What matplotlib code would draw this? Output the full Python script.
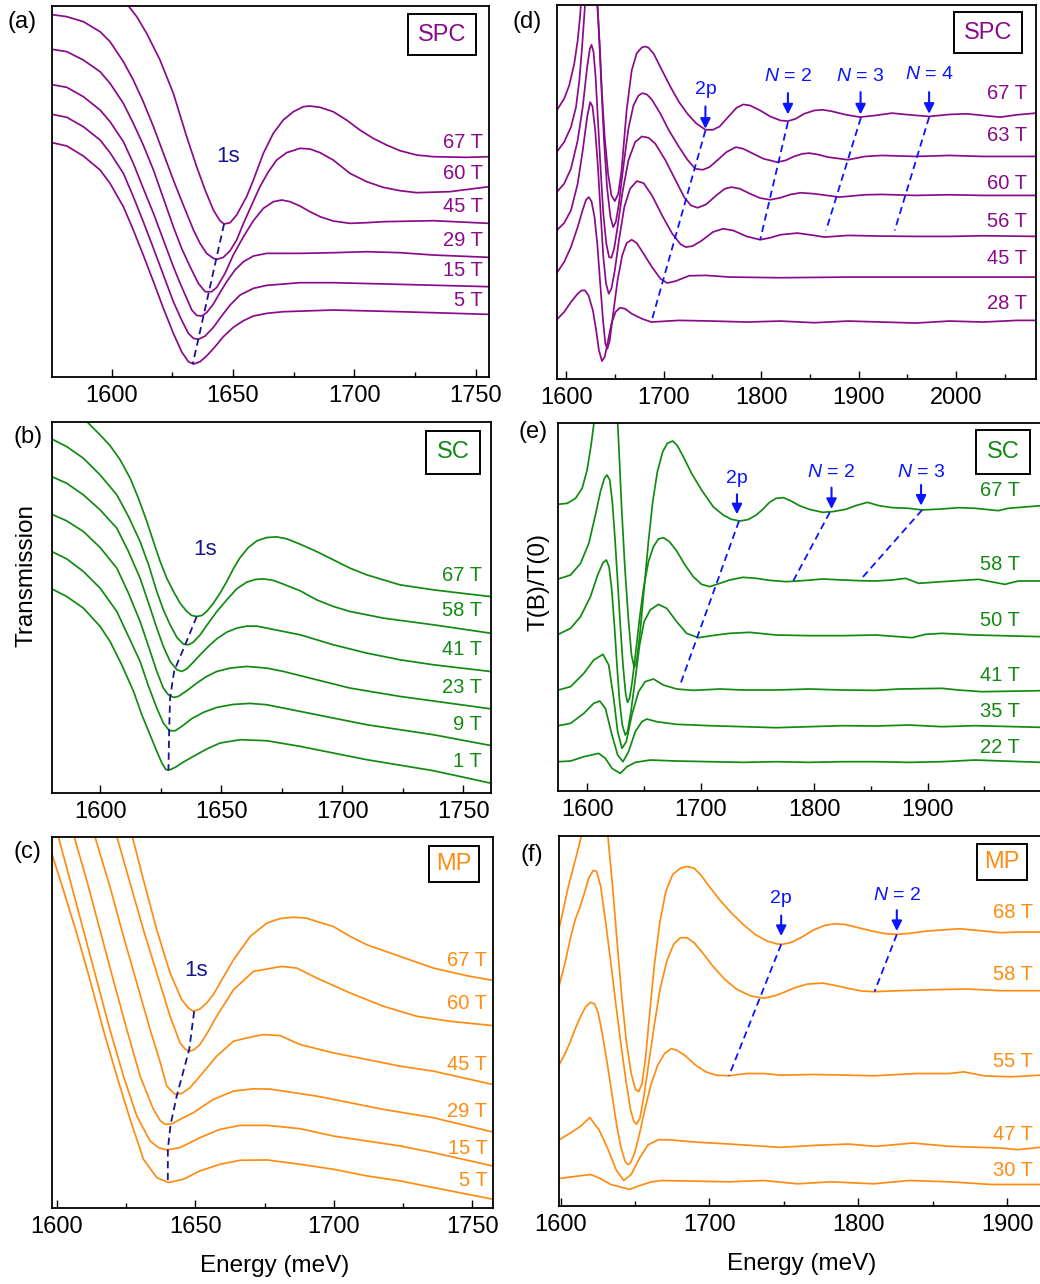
import matplotlib
matplotlib.use('Agg')
import matplotlib.pyplot as plt
from matplotlib.ticker import MultipleLocator, FixedLocator

plt.rcParams['font.family'] = ['Liberation Sans', 'DejaVu Sans']
plt.rcParams['mathtext.fontset'] = 'custom'
plt.rcParams['mathtext.rm'] = 'Liberation Sans'
plt.rcParams['mathtext.it'] = 'Liberation Sans:italic'

# Values: energy (meV) and signal offset (arb. units)

# ---------------- panel (a) SPC, transmission ----------------
a_67_x = [1604.8, 1606.9, 1610.3, 1614.4, 1619.9, 1625.4, 1630.9, 1635.0, 1638.5, 1641.9, 1644.6, 1646.3, 1648.8, 1651.5, 1655.6, 1658.4, 1662.5, 1666.6, 1670.7, 1674.9, 1679.0, 1681.7, 1685.9, 1691.3, 1696.8, 1702.3, 1707.8, 1713.3, 1718.8, 1725.7, 1732.6, 1746.3, 1755.5]
a_67_y = [1135, 1112, 1080, 1030, 950, 850, 720, 630, 560, 500, 468, 458, 462, 485, 540, 590, 670, 730, 770, 795, 810, 812, 808, 795, 770, 740, 715, 695, 678, 665, 660, 658, 660]
a_60_x = [1575.5, 1581.5, 1588.3, 1595.2, 1599.3, 1604.8, 1608.9, 1613.0, 1617.2, 1621.3, 1625.4, 1629.5, 1633.7, 1636.4, 1639.1, 1641.9, 1643.3, 1646.0, 1648.8, 1651.5, 1654.3, 1657.7, 1661.1, 1664.6, 1668.0, 1672.1, 1677.6, 1681.7, 1685.9, 1691.3, 1698.2, 1705.1, 1711.9, 1718.8, 1725.7, 1739.4, 1755.5]
a_60_y = [1086, 1080, 1065, 1035, 1005, 945, 890, 825, 750, 670, 590, 515, 440, 400, 370, 355, 352, 358, 378, 410, 460, 515, 570, 615, 650, 672, 685, 683, 672, 650, 610, 585, 568, 558, 552, 555, 570]
a_45_x = [1575.5, 1581.5, 1588.3, 1595.2, 1599.3, 1604.8, 1608.9, 1613.0, 1617.2, 1621.3, 1625.4, 1628.8, 1632.3, 1635.7, 1638.5, 1641.2, 1643.3, 1646.7, 1650.1, 1654.3, 1658.4, 1662.5, 1666.6, 1670.1, 1673.5, 1677.6, 1681.7, 1685.9, 1691.3, 1698.2, 1705.1, 1711.9, 1732.6, 1755.5]
a_45_y = [982, 975, 950, 915, 880, 820, 760, 695, 620, 535, 450, 385, 330, 280, 255, 255, 268, 310, 365, 420, 468, 505, 525, 530, 525, 512, 495, 480, 467, 460, 462, 465, 468, 460]
a_29_x = [1575.5, 1581.5, 1588.3, 1595.2, 1599.3, 1604.8, 1608.9, 1613.0, 1617.2, 1621.3, 1625.4, 1628.2, 1630.9, 1633.0, 1635.0, 1637.1, 1639.1, 1641.9, 1644.6, 1647.4, 1650.8, 1654.3, 1658.4, 1663.9, 1677.6, 1691.3, 1705.1, 1718.8, 1732.6, 1755.5]
a_29_y = [876, 868, 840, 800, 765, 705, 640, 565, 490, 410, 330, 280, 235, 200, 184, 182, 192, 218, 252, 285, 320, 345, 362, 370, 370, 372, 375, 372, 365, 358]
a_15_x = [1575.5, 1581.5, 1588.3, 1595.2, 1599.3, 1604.8, 1608.9, 1613.0, 1617.2, 1621.3, 1625.4, 1628.8, 1631.6, 1633.7, 1635.7, 1638.5, 1641.9, 1645.3, 1648.8, 1652.9, 1658.4, 1663.9, 1677.6, 1691.3, 1718.8, 1755.5]
a_15_y = [787, 778, 750, 710, 672, 610, 540, 465, 385, 305, 225, 170, 130, 115, 112, 122, 148, 182, 215, 245, 265, 274, 282, 282, 277, 270]
a_5_x = [1575.5, 1581.5, 1588.3, 1595.2, 1599.3, 1604.8, 1608.9, 1613.0, 1617.2, 1621.3, 1625.4, 1628.8, 1631.6, 1633.7, 1636.4, 1639.1, 1642.6, 1646.0, 1650.1, 1654.3, 1658.4, 1663.9, 1670.7, 1691.3, 1718.8, 1755.5]
a_5_y = [702, 692, 662, 620, 580, 510, 440, 365, 285, 205, 130, 75, 45, 38, 45, 62, 90, 120, 148, 168, 182, 190, 195, 200, 195, 187]
a_labels = ['67 T', '60 T', '45 T', '29 T', '15 T', '5 T']
a_label_y = [702, 610, 510, 408, 320, 228]
a_1s_x = [1646.3, 1633.4]
a_1s_y = [458, 38]

# ---------------- panel (b) SC, transmission ----------------
b_67 = [(1593.1, 1145), (1594.8, 1113), (1600.0, 1075), (1604.1, 1043), (1608.3, 1000), (1612.4, 945), (1615.8, 885), (1619.3, 815), (1622.0, 755), (1624.8, 695), (1627.5, 645), (1630.3, 605), (1633.0, 570), (1635.8, 545), (1637.8, 533), (1639.9, 530), (1642.0, 533), (1644.0, 545), (1646.8, 570), (1649.5, 600), (1652.3, 635), (1655.0, 673), (1657.8, 707), (1661.2, 737), (1664.7, 757), (1668.8, 767), (1672.9, 769), (1677.1, 763), (1682.6, 747), (1689.4, 725), (1696.3, 700), (1703.2, 675), (1710.1, 655), (1723.8, 625), (1737.6, 610), (1751.4, 598), (1761.0, 590)]
b_58 = [(1580.0, 1063), (1586.2, 1040), (1593.1, 1005), (1600.0, 955), (1606.9, 895), (1611.7, 830), (1616.5, 755), (1620.0, 685), (1623.4, 605), (1626.1, 550), (1628.9, 505), (1631.7, 467), (1634.4, 447), (1636.5, 445), (1638.5, 453), (1641.3, 475), (1644.0, 503), (1648.2, 545), (1652.3, 580), (1656.4, 613), (1660.5, 633), (1664.0, 641), (1667.4, 643), (1671.6, 638), (1675.7, 627), (1682.6, 607), (1689.4, 580), (1696.3, 560), (1703.2, 545), (1717.0, 525), (1737.6, 505), (1761.0, 480)]
b_41 = [(1580.0, 950), (1586.2, 930), (1593.1, 895), (1600.0, 850), (1606.9, 795), (1611.7, 725), (1616.5, 645), (1620.0, 570), (1623.4, 495), (1626.1, 440), (1628.9, 395), (1631.7, 370), (1633.7, 365), (1635.8, 373), (1638.5, 393), (1641.3, 415), (1644.7, 440), (1648.2, 463), (1652.3, 483), (1656.4, 495), (1660.5, 501), (1664.7, 501), (1668.8, 495), (1675.7, 485), (1682.6, 475), (1696.3, 445), (1710.1, 420), (1723.8, 400), (1737.6, 385), (1761.0, 365)]
b_23 = [(1580.0, 837), (1586.2, 817), (1593.1, 785), (1600.0, 737), (1606.9, 675), (1611.7, 600), (1616.5, 515), (1620.0, 440), (1623.4, 365), (1626.1, 315), (1628.2, 295), (1630.3, 287), (1632.3, 290), (1635.8, 307), (1639.9, 330), (1644.0, 350), (1648.2, 365), (1653.7, 375), (1660.5, 380), (1668.8, 375), (1675.7, 365), (1689.4, 340), (1703.2, 315), (1723.8, 290), (1761.0, 253)]
b_9 = [(1580.0, 725), (1586.2, 703), (1593.1, 665), (1600.0, 615), (1606.9, 545), (1611.7, 470), (1616.5, 395), (1620.0, 320), (1623.4, 255), (1626.1, 210), (1628.6, 187), (1631.0, 187), (1633.7, 200), (1637.8, 223), (1642.6, 242), (1648.2, 257), (1655.0, 266), (1661.9, 269), (1668.8, 265), (1682.6, 245), (1696.3, 225), (1710.1, 205), (1737.6, 175), (1761.0, 143)]
b_1 = [(1580.0, 613), (1586.2, 590), (1593.1, 555), (1600.0, 500), (1604.1, 455), (1608.9, 385), (1613.8, 305), (1617.2, 235), (1620.6, 175), (1623.4, 125), (1625.5, 90), (1627.2, 70), (1628.9, 70), (1631.0, 77), (1634.4, 93), (1638.5, 110), (1644.0, 132), (1649.5, 150), (1657.8, 160), (1668.8, 157), (1682.6, 140), (1696.3, 120), (1710.1, 100), (1737.6, 67), (1761.0, 30)]
b_labels = ['67 T', '58 T', '41 T', '23 T', '9 T', '1 T']
b_label_y = [652, 548, 432, 317, 205, 95]
b_1s_x = [1639.9, 1635.1, 1630.6, 1628.9, 1628.5, 1628.2]
b_1s_y = [530, 445, 367, 287, 187, 67]

# ---------------- panel (c) MP, transmission ----------------
c_67_x = [1626.1, 1627.3, 1631.3, 1636.1, 1640.9, 1645.1, 1647.5, 1649.3, 1651.7, 1654.1, 1656.5, 1658.9, 1663.8, 1669.8, 1675.8, 1680.6, 1685.4, 1690.2, 1693.8, 1699.8, 1705.9, 1711.9, 1723.9, 1735.9, 1748.0, 1757.3]
c_67_y = [1150, 1115, 985, 835, 705, 625, 600, 590, 597, 615, 640, 675, 745, 815, 855, 869, 873, 870, 860, 845, 815, 790, 755, 720, 697, 683]
c_60_x = [1620.6, 1621.7, 1626.5, 1631.3, 1636.1, 1640.9, 1644.5, 1646.3, 1647.5, 1649.3, 1651.7, 1654.7, 1657.7, 1663.8, 1671.0, 1675.8, 1681.2, 1686.6, 1693.8, 1705.9, 1717.9, 1729.9, 1741.9, 1757.3]
c_60_y = [1150, 1115, 975, 835, 705, 575, 495, 477, 470, 473, 490, 530, 575, 655, 710, 717, 725, 720, 690, 645, 605, 575, 560, 547]
c_45_x = [1612.6, 1613.8, 1619.2, 1624.1, 1628.9, 1633.7, 1637.3, 1639.7, 1642.7, 1645.1, 1648.1, 1651.7, 1657.7, 1663.8, 1668.6, 1674.6, 1680.6, 1687.8, 1699.8, 1711.9, 1723.9, 1735.9, 1757.3]
c_45_y = [1150, 1115, 965, 815, 675, 535, 438, 365, 340, 343, 360, 395, 455, 500, 510, 520, 517, 490, 465, 445, 425, 410, 370]
c_29_x = [1605.1, 1606.3, 1610.8, 1615.6, 1620.4, 1625.3, 1630.1, 1634.9, 1637.3, 1639.1, 1641.5, 1644.5, 1649.3, 1656.5, 1663.8, 1671.0, 1677.0, 1681.8, 1693.8, 1705.9, 1717.9, 1735.9, 1757.3]
c_29_y = [1150, 1115, 985, 835, 685, 535, 395, 295, 262, 250, 251, 265, 285, 325, 350, 357, 356, 350, 335, 315, 295, 270, 227]
c_15_x = [1598.2, 1600.6, 1604.8, 1609.6, 1614.4, 1619.2, 1624.1, 1628.9, 1633.7, 1636.7, 1639.7, 1644.5, 1651.7, 1658.9, 1666.2, 1675.8, 1687.8, 1699.8, 1711.9, 1723.9, 1735.9, 1757.3]
c_15_y = [1165, 1115, 985, 835, 685, 535, 395, 275, 200, 180, 173, 180, 210, 235, 247, 247, 237, 215, 200, 185, 165, 125]
c_5_x = [1598.2, 1602.4, 1607.2, 1612.0, 1616.8, 1621.7, 1626.5, 1631.3, 1636.1, 1640.3, 1645.7, 1651.7, 1658.9, 1666.2, 1675.8, 1687.8, 1699.8, 1711.9, 1723.9, 1735.9, 1757.3]
c_5_y = [1065, 955, 825, 685, 535, 395, 265, 145, 90, 75, 85, 110, 130, 142, 143, 130, 115, 95, 80, 60, 25]
c_labels = ['67 T', '60 T', '45 T', '29 T', '15 T', '5 T']
c_label_y = [743, 612, 430, 290, 177, 82]
c_1s_x = [1649.6, 1647.8, 1643.3, 1641.1, 1640.1, 1640.1]
c_1s_y = [590, 475, 335, 250, 175, 75]

# ---------------- panel (d) SPC, T(B)/T(0) ----------------
d_67 = [(1590.3, 805), (1597.9, 840), (1603.1, 880), (1608.3, 945), (1611.8, 1015), (1614.2, 1085), (1615.9, 1155), (1618.0, 1235), (1629.1, 1235), (1630.8, 1165), (1632.6, 1095), (1634.7, 985), (1636.7, 855), (1639.5, 725), (1643.0, 615), (1646.4, 550), (1649.9, 533), (1653.4, 555), (1656.8, 625), (1662.0, 805), (1667.2, 925), (1672.4, 977), (1677.6, 994), (1681.1, 997), (1684.6, 993), (1689.8, 975), (1698.4, 925), (1707.1, 875), (1715.8, 830), (1724.4, 795), (1733.1, 767), (1742.8, 747), (1750.4, 747), (1757.4, 757), (1766.0, 785), (1774.7, 813), (1781.6, 823), (1788.6, 820), (1799.0, 805), (1809.3, 787), (1819.7, 775), (1827.4, 773), (1835.3, 780), (1844.0, 795), (1854.4, 805), (1863.1, 807), (1871.7, 803), (1885.6, 793), (1901.2, 785), (1916.8, 790), (1934.1, 797), (1951.5, 792), (1972.2, 787), (1993.0, 793), (2010.4, 795), (2027.7, 790), (2045.0, 785), (2062.4, 792), (2081.8, 797)]
d_63 = [(1590.3, 680), (1597.9, 710), (1604.9, 755), (1610.1, 815), (1613.5, 895), (1616.3, 995), (1618.7, 1095), (1620.8, 1195), (1622.9, 1255), (1629.1, 1255), (1631.2, 1175), (1633.3, 1055), (1636.0, 885), (1638.8, 715), (1641.9, 575), (1645.4, 485), (1648.2, 455), (1650.9, 470), (1654.1, 525), (1658.6, 635), (1663.8, 750), (1669.0, 820), (1674.2, 850), (1678.3, 857), (1682.8, 853), (1688.0, 837), (1696.7, 795), (1705.4, 745), (1715.8, 695), (1724.4, 657), (1732.4, 630), (1740.0, 627), (1747.0, 635), (1755.6, 657), (1764.3, 680), (1774.0, 695), (1781.6, 690), (1792.0, 675), (1802.4, 660), (1816.3, 650), (1824.9, 655), (1833.6, 667), (1842.3, 675), (1849.2, 677), (1857.9, 673), (1868.3, 665), (1889.1, 657), (1906.4, 667), (1923.7, 670), (1958.4, 667), (1993.0, 670), (2027.7, 667), (2081.8, 667)]
d_60 = [(1590.3, 560), (1597.9, 585), (1604.9, 630), (1611.8, 715), (1617.0, 815), (1621.5, 935), (1624.3, 990), (1626.0, 1002), (1628.1, 980), (1630.2, 905), (1632.6, 775), (1635.4, 625), (1638.1, 495), (1641.2, 405), (1644.0, 365), (1646.4, 363), (1649.2, 390), (1652.7, 455), (1657.5, 555), (1663.8, 655), (1670.7, 710), (1677.6, 727), (1684.6, 723), (1691.5, 705), (1701.9, 655), (1712.3, 595), (1721.0, 545), (1727.9, 520), (1734.8, 513), (1743.5, 523), (1753.9, 550), (1762.6, 570), (1769.5, 575), (1778.2, 570), (1788.6, 555), (1799.0, 542), (1809.3, 537), (1819.7, 543), (1830.1, 553), (1840.5, 558), (1854.4, 555), (1880.4, 545), (1906.4, 552), (1923.7, 553), (1958.4, 550), (1993.0, 552), (2027.7, 550), (2081.8, 550)]
d_56 = [(1590.3, 445), (1597.9, 467), (1604.9, 505), (1611.8, 585), (1617.0, 685), (1621.5, 785), (1624.6, 830), (1627.0, 817), (1629.8, 745), (1632.6, 635), (1635.4, 495), (1638.1, 365), (1640.9, 285), (1643.7, 255), (1646.4, 270), (1649.9, 325), (1654.1, 415), (1659.6, 515), (1665.5, 570), (1672.4, 593), (1679.4, 587), (1688.0, 550), (1698.4, 490), (1708.8, 435), (1717.5, 403), (1722.7, 395), (1729.6, 398), (1738.3, 413), (1750.4, 440), (1760.8, 450), (1771.2, 445), (1785.1, 427), (1799.0, 417), (1809.3, 423), (1819.7, 432), (1837.1, 437), (1854.4, 430), (1864.8, 425), (1889.1, 430), (1923.7, 428), (1958.4, 427), (1993.0, 427), (2027.7, 429), (2081.8, 427)]
d_45 = [(1590.3, 317), (1597.9, 350), (1604.9, 395), (1611.8, 455), (1617.0, 507), (1620.4, 537), (1623.2, 545), (1626.0, 532), (1629.1, 485), (1631.9, 405), (1634.7, 295), (1637.8, 175), (1640.2, 105), (1642.3, 90), (1644.7, 115), (1648.2, 195), (1652.7, 295), (1657.5, 370), (1662.0, 407), (1667.2, 417), (1672.4, 407), (1679.4, 375), (1688.0, 335), (1696.7, 300), (1703.6, 287), (1712.3, 293), (1726.2, 309), (1743.5, 310), (1767.8, 305), (1819.7, 303), (1889.1, 305), (1958.4, 305), (2027.7, 305), (2081.8, 305)]
d_28 = [(1590.3, 177), (1597.9, 200), (1604.9, 230), (1611.8, 255), (1615.9, 265), (1619.4, 265), (1622.9, 250), (1627.4, 205), (1630.8, 145), (1633.6, 85), (1636.7, 53), (1639.5, 65), (1643.0, 115), (1646.4, 165), (1650.6, 200), (1655.1, 213), (1660.3, 210), (1667.2, 195), (1677.6, 180), (1687.3, 170), (1715.8, 175), (1750.4, 173), (1785.1, 170), (1819.7, 173), (1854.4, 168), (1889.1, 173), (1923.7, 170), (1958.4, 167), (1993.0, 173), (2027.7, 170), (2062.4, 175), (2081.8, 175)]
d_labels = ['67 T', '63 T', '60 T', '56 T', '45 T', '28 T']
d_label_y = [855, 730, 585, 473, 360, 225]
d_marks = ['2p', '$N$ = 2', '$N$ = 3', '$N$ = 4']
d_mark_x = [1742.8, 1827.4, 1901.9, 1972.2]
d_guide_x = [[1742.8, 1687.3], [1827.4, 1799.0], [1902.2, 1866.5], [1972.2, 1936.9]]
d_guide_y = [[745, 170], [770, 417], [783, 445], [785, 445]]

# ---------------- panel (e) SC, T(B)/T(0) ----------------
e_67 = [(1574.6, 859), (1582.5, 862), (1589.8, 877), (1595.6, 907), (1600.0, 962), (1603.5, 1037), (1605.8, 1097), (1607.6, 1157), (1609.3, 1207), (1624.8, 1207), (1626.3, 1147), (1628.0, 1027), (1630.4, 847), (1633.3, 667), (1636.5, 507), (1639.1, 407), (1641.5, 369), (1643.8, 392), (1646.7, 477), (1650.2, 607), (1654.0, 747), (1657.8, 867), (1661.9, 957), (1666.6, 1017), (1670.7, 1042), (1675.4, 1049), (1679.5, 1035), (1684.7, 1002), (1692.0, 952), (1700.8, 902), (1711.0, 852), (1719.8, 827), (1727.1, 814), (1734.4, 809), (1741.7, 813), (1749.0, 827), (1754.8, 844), (1760.7, 865), (1766.5, 877), (1772.9, 879), (1779.7, 869), (1787.0, 855), (1795.7, 844), (1807.4, 835), (1816.2, 837), (1827.9, 844), (1836.6, 855), (1846.9, 865), (1857.1, 855), (1868.8, 849), (1883.4, 847), (1895.1, 842), (1912.6, 845), (1927.2, 849), (1941.8, 847), (1962.3, 840), (1971.0, 847), (2000.0, 855)]
e_58 = [(1574.6, 635), (1585.4, 647), (1594.2, 682), (1601.5, 742), (1607.3, 827), (1611.7, 897), (1615.2, 937), (1617.5, 947), (1619.9, 932), (1622.2, 867), (1624.5, 757), (1626.9, 627), (1629.2, 497), (1631.6, 377), (1633.9, 292), (1635.6, 265), (1637.4, 277), (1639.7, 327), (1642.7, 412), (1646.2, 517), (1649.7, 607), (1654.0, 687), (1658.4, 732), (1662.8, 755), (1667.2, 759), (1672.5, 747), (1678.9, 719), (1686.2, 677), (1693.5, 642), (1700.8, 619), (1708.1, 612), (1716.9, 622), (1725.6, 632), (1737.3, 640), (1749.0, 637), (1760.7, 631), (1775.3, 627), (1789.9, 630), (1807.4, 635), (1824.9, 632), (1839.6, 630), (1854.2, 629), (1868.8, 632), (1880.5, 637), (1892.1, 622), (1912.6, 627), (1944.7, 634), (1968.1, 619), (1979.8, 629), (2000.0, 629)]
e_50 = [(1574.6, 469), (1585.4, 487), (1594.2, 522), (1602.9, 582), (1609.3, 647), (1614.0, 684), (1616.9, 692), (1619.3, 672), (1621.6, 607), (1624.0, 497), (1626.3, 377), (1628.6, 267), (1631.0, 197), (1633.6, 167), (1635.6, 177), (1638.6, 237), (1642.1, 327), (1646.2, 437), (1650.2, 507), (1655.5, 542), (1662.8, 559), (1670.1, 547), (1678.9, 507), (1687.6, 472), (1697.9, 459), (1713.9, 467), (1725.6, 472), (1743.1, 475), (1766.5, 467), (1795.7, 465), (1824.9, 465), (1854.2, 467), (1886.3, 459), (1898.0, 469), (1912.6, 472), (1941.8, 467), (2000.0, 462)]
e_41_x = [1574.6, 1585.4, 1597.1, 1605.8, 1614.0, 1619.0, 1623.4, 1626.9, 1630.7, 1634.5, 1639.4, 1645.3, 1651.1, 1658.4, 1667.2, 1678.9, 1693.5, 1716.9, 1737.3, 1766.5, 1795.7, 1824.9, 1854.2, 1874.6, 1912.6, 1927.2, 1947.6, 2000.0]
e_41_y = [302, 312, 352, 392, 409, 377, 277, 177, 127, 147, 227, 297, 327, 335, 317, 305, 301, 305, 302, 302, 305, 302, 301, 305, 307, 302, 297, 300]
e_35_x = [1574.6, 1585.4, 1597.1, 1605.8, 1611.1, 1616.1, 1621.9, 1626.9, 1631.6, 1636.5, 1642.4, 1648.2, 1652.6, 1661.3, 1678.9, 1708.1, 1737.3, 1766.5, 1795.7, 1824.9, 1854.2, 1883.4, 1912.6, 1941.8, 2000.0]
e_35_y = [195, 202, 232, 262, 269, 247, 167, 107, 87, 117, 177, 207, 215, 207, 199, 195, 192, 189, 192, 195, 194, 197, 192, 195, 190]
e_22_x = [1574.6, 1585.4, 1597.1, 1610.2, 1616.1, 1621.9, 1629.2, 1635.1, 1642.4, 1655.5, 1678.9, 1708.1, 1737.3, 1766.5, 1795.7, 1824.9, 1854.2, 1883.4, 1912.6, 1941.8, 2000.0]
e_22_y = [87, 89, 102, 112, 97, 67, 52, 72, 85, 92, 89, 87, 85, 87, 85, 87, 87, 85, 87, 92, 85]
e_labels = ['67 T', '58 T', '50 T', '41 T', '35 T', '22 T']
e_label_y = [899, 677, 512, 347, 239, 129]
e_marks = ['2p', '$N$ = 2', '$N$ = 3']
e_mark_x = [1732.0, 1815.3, 1894.2]
e_guide_x = [[1733.8, 1682.4], [1813.8, 1781.7], [1895.1, 1841.9]]
e_guide_y = [[809, 322], [835, 630], [842, 637]]
e_ticks = [1600, 1700, 1800, 1900]

# ---------------- panel (f) MP, T(B)/T(0) ----------------
f_68 = [(1599.1, 840), (1601.8, 895), (1605.2, 965), (1608.7, 1025), (1611.6, 1075), (1613.9, 1117), (1616.0, 1165), (1617.8, 1215), (1629.6, 1215), (1631.0, 1155), (1632.6, 1075), (1634.9, 965), (1637.8, 805), (1641.0, 635), (1644.2, 495), (1647.4, 400), (1650.2, 353), (1652.4, 345), (1654.7, 370), (1657.0, 445), (1659.7, 575), (1662.9, 725), (1666.6, 855), (1670.7, 950), (1675.2, 1000), (1680.5, 1020), (1685.0, 1025), (1689.6, 1020), (1694.1, 1000), (1699.8, 965), (1706.7, 925), (1714.7, 885), (1722.6, 850), (1730.6, 820), (1738.6, 800), (1745.4, 791), (1748.9, 790), (1754.6, 795), (1761.4, 810), (1769.4, 832), (1777.4, 847), (1784.2, 852), (1791.0, 850), (1800.2, 840), (1809.3, 830), (1818.4, 822), (1825.9, 820), (1834.3, 823), (1845.7, 830), (1861.7, 835), (1868.5, 837), (1884.5, 830), (1895.9, 825), (1907.3, 827), (1922.1, 827)]
f_58 = [(1599.1, 667), (1603.0, 735), (1606.4, 805), (1609.8, 865), (1613.2, 905), (1616.0, 945), (1618.9, 990), (1621.9, 1013), (1624.2, 1010), (1626.9, 965), (1630.3, 855), (1633.7, 735), (1637.2, 605), (1640.6, 485), (1644.0, 375), (1647.0, 290), (1649.2, 255), (1651.1, 247), (1653.3, 265), (1656.1, 335), (1659.3, 435), (1662.9, 545), (1666.8, 655), (1671.4, 740), (1675.9, 790), (1680.5, 810), (1685.0, 810), (1689.6, 795), (1695.3, 765), (1702.1, 725), (1710.1, 685), (1718.1, 655), (1727.2, 635), (1736.3, 627), (1744.3, 635), (1751.1, 647), (1758.0, 660), (1766.0, 670), (1776.2, 673), (1785.3, 665), (1793.3, 657), (1802.4, 649), (1810.4, 647), (1827.5, 650), (1850.3, 653), (1873.1, 655), (1895.9, 650), (1922.1, 650)]
f_55 = [(1599.1, 427), (1603.0, 460), (1606.4, 495), (1609.8, 535), (1613.2, 570), (1616.6, 600), (1620.1, 615), (1622.8, 610), (1625.1, 585), (1628.0, 520), (1631.5, 425), (1634.9, 325), (1637.8, 240), (1640.6, 175), (1643.3, 135), (1645.1, 125), (1647.0, 130), (1649.7, 160), (1653.1, 220), (1656.5, 290), (1660.6, 365), (1665.2, 425), (1669.8, 460), (1674.3, 475), (1678.2, 470), (1683.9, 453), (1690.7, 425), (1697.6, 405), (1704.4, 395), (1713.1, 393), (1724.9, 400), (1736.3, 400), (1747.7, 395), (1770.5, 397), (1793.3, 395), (1810.4, 393), (1838.9, 400), (1861.7, 400), (1870.8, 405), (1884.5, 393), (1902.7, 390), (1922.1, 395)]
f_47_x = [1599.1, 1606.4, 1613.2, 1619.6, 1625.8, 1631.5, 1637.2, 1642.4, 1647.4, 1653.1, 1658.8, 1665.7, 1672.5, 1690.7, 1713.5, 1747.7, 1770.5, 1793.3, 1811.5, 1836.6, 1861.7, 1895.9, 1907.3, 1922.1]
f_47_y = [200, 220, 240, 267, 230, 175, 110, 77, 95, 145, 185, 200, 200, 193, 187, 177, 183, 187, 180, 190, 180, 175, 170, 177]
f_30_x = [1599.1, 1610.9, 1620.1, 1625.8, 1633.7, 1646.3, 1652.0, 1661.1, 1667.9, 1690.7, 1713.5, 1736.3, 1759.1, 1781.9, 1810.4, 1834.3, 1861.7, 1889.1, 1922.1]
f_30_y = [83, 90, 95, 85, 65, 50, 60, 73, 77, 75, 73, 77, 67, 73, 67, 77, 73, 65, 65]
f_labels = ['68 T', '58 T', '55 T', '47 T', '30 T']
f_label_y = [885, 698, 437, 217, 107]
f_marks = ['2p', '$N$ = 2']
f_mark_x = [1748.2, 1825.9]
f_guide_x = [[1748.2, 1713.1], [1825.9, 1810.9]]
f_guide_y = [[790, 393], [820, 647]]

PURPLE = '#8a0a8a'
GREEN = '#118a11'
ORANGE = '#ff8c12'
NAVY = '#15158f'
BLUE = '#0a14ff'

W, H = 1040, 1284
fig = plt.figure(figsize=(W / 100, H / 100), dpi=100)


def xy(points):
    return [p[0] for p in points], [p[1] for p in points]


def make_ax(l, r, t, b, xlim, ylim, major, minor):
    ax = fig.add_axes([l / W, 1 - b / H, (r - l) / W, (b - t) / H])
    ax.set_xlim(*xlim)
    ax.set_ylim(*ylim)
    ax.set_yticks([])
    ax.xaxis.set_major_locator(MultipleLocator(major))
    ax.xaxis.set_minor_locator(MultipleLocator(minor))
    ax.tick_params(axis='x', which='major', direction='in', length=6, width=1.0,
                   labelsize=17, pad=6, top=False)
    ax.tick_params(axis='x', which='minor', direction='in', length=3.5, width=1.0, top=False)
    for s in ax.spines.values():
        s.set_linewidth(1.3)
    return ax


def tag(ax, text, color, fx, fy, pad=0.35):
    ax.text(fx, fy, text, transform=ax.transAxes, ha='center', va='center',
            color=color, fontsize=17,
            bbox=dict(boxstyle='square,pad=%s' % pad, fc='white', ec='black', lw=1.4))


def t_panel(ax, curves, color, labels, label_y, label_x):
    for x, y in curves:
        ax.plot(x, y, color=color, lw=1.25)
    for lab, ly in zip(labels, label_y):
        ax.text(label_x, ly, lab, color=color, fontsize=14.5, ha='right', va='center')


def arrows(ax, marks, mark_x, guide_x, guide_y, tail_y, tip_y, text_y):
    for gx, gy in zip(guide_x, guide_y):
        ax.plot(gx, gy, color=BLUE, lw=1.3, ls=(0, (4, 2.5)))
    for m, mx, ty, py, sy in zip(marks, mark_x, tail_y, tip_y, text_y):
        ax.annotate('', xy=(mx, py), xytext=(mx, ty),
                    arrowprops=dict(arrowstyle='-|>', color=BLUE, lw=1.5,
                                    mutation_scale=15, shrinkA=0, shrinkB=0))
        ax.text(mx, sy, m, color=BLUE, fontsize=14, ha='center', va='center')


# (a)
ax = make_ax(52.3, 488.7, 6, 376.7, (1575.5, 1755.4), (0, 1112), 50, 25)
t_panel(ax, [(a_67_x, a_67_y), (a_60_x, a_60_y), (a_45_x, a_45_y),
             (a_29_x, a_29_y), (a_15_x, a_15_y), (a_5_x, a_5_y)],
        PURPLE, a_labels, a_label_y, 1752.9)
ax.plot(a_1s_x, a_1s_y, color=NAVY, lw=1.3, ls=(0, (4, 2.5)))
ax.text(1648.1, 660, '1s', color=NAVY, fontsize=16, ha='center', va='center')
tag(ax, 'SPC', PURPLE, 0.893, 0.922, 0.4)

# (b)
ax = make_ax(51.7, 491, 422.3, 793, (1580.0, 1761.4), (0, 1113), 50, 25)
t_panel(ax, [xy(b_67), xy(b_58), xy(b_41), xy(b_23), xy(b_9), xy(b_1)],
        GREEN, b_labels, b_label_y, 1757.6)
ax.plot(b_1s_x, b_1s_y, color=NAVY, lw=1.3, ls=(0, (4, 2.5)))
ax.text(1643.3, 732, '1s', color=NAVY, fontsize=16, ha='center', va='center')
tag(ax, 'SC', GREEN, 0.913, 0.919, 0.45)

# (c)
ax = make_ax(51.7, 492.7, 836.7, 1207.5, (1598.2, 1757.3), (0, 1115), 50, 25)
t_panel(ax, [(c_67_x, c_67_y), (c_60_x, c_60_y), (c_45_x, c_45_y),
             (c_29_x, c_29_y), (c_15_x, c_15_y), (c_5_x, c_5_y)],
        ORANGE, c_labels, c_label_y, 1755.4)
ax.plot(c_1s_x, c_1s_y, color=NAVY, lw=1.3, ls=(0, (4, 2.5)))
ax.text(1650.3, 712, '1s', color=NAVY, fontsize=16, ha='center', va='center')
tag(ax, 'MP', ORANGE, 0.912, 0.926, 0.3)

# (d)
ax = make_ax(556.7, 1036, 4.5, 378.7, (1590.3, 2081.8), (0, 1123), 100, 50)
t_panel(ax, [xy(d_67), xy(d_63), xy(d_60), xy(d_56), xy(d_45), xy(d_28)],
        PURPLE, d_labels, d_label_y, 2072.8)
arrows(ax, d_marks, d_mark_x, d_guide_x, d_guide_y,
       [817, 857, 860, 860], [750, 793, 793, 795], [867, 907, 907, 913])
tag(ax, 'SPC', PURPLE, 0.90, 0.925, 0.4)

# (e)
ax = make_ax(558.3, 1044, 423.3, 790.7, (1574.6, 2002.5), (0, 1102), 100, 50)
ax.xaxis.set_major_locator(FixedLocator(e_ticks))
t_panel(ax, [xy(e_67), xy(e_58), xy(e_50), (e_41_x, e_41_y), (e_35_x, e_35_y), (e_22_x, e_22_y)],
        GREEN, e_labels, e_label_y, 1981.2)
arrows(ax, e_marks, e_mark_x, e_guide_x, e_guide_y,
       [889, 909, 917], [829, 845, 855], [937, 955, 955])
tag(ax, 'SC', GREEN, 0.916, 0.922, 0.45)

# (f)
ax = make_ax(559.3, 1044, 836, 1206, (1599.1, 1924.8), (0, 1117), 100, 50)
t_panel(ax, [xy(f_68), xy(f_58), xy(f_55), (f_47_x, f_47_y), (f_30_x, f_30_y)],
        ORANGE, f_labels, f_label_y, 1917.5)
arrows(ax, f_marks, f_mark_x, f_guide_x, f_guide_y,
       [877, 893], [815, 830], [927, 937])
tag(ax, 'MP', ORANGE, 0.913, 0.930, 0.3)

# panel letters and axis titles
for lab, px, py in [('(a)', 22, 22), ('(b)', 28, 437), ('(c)', 27, 852),
                    ('(d)', 527, 22), ('(e)', 533, 432), ('(f)', 532, 855)]:
    fig.text(px / W, 1 - py / H, lab, fontsize=17, ha='center', va='center')
fig.text(26.7 / W, 1 - 575 / H, 'Transmission', fontsize=17.5, rotation=90, ha='center', va='center')
fig.text(538 / W, 1 - 582 / H, 'T(B)/T(0)', fontsize=17.5, rotation=90, ha='center', va='center')
fig.text(275 / W, 1 - 1266 / H, 'Energy (meV)', fontsize=17.5, ha='center', va='center')
fig.text(802 / W, 1 - 1264 / H, 'Energy (meV)', fontsize=17.5, ha='center', va='center')

fig.savefig('out.png', dpi=100)
